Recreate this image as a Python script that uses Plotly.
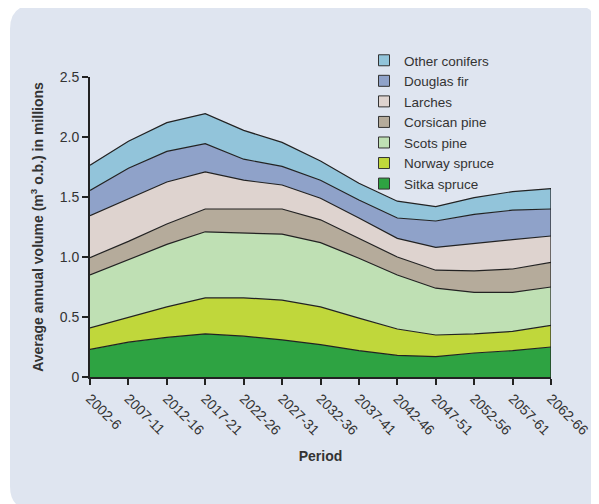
import plotly.graph_objects as go

periods = ["2002-6", "2007-11", "2012-16", "2017-21", "2022-26", "2027-31", "2032-36",
           "2037-41", "2042-46", "2047-51", "2052-56", "2057-61", "2062-66"]

sitka_spruce   = [0.23, 0.29, 0.33, 0.36, 0.34, 0.31, 0.27, 0.22, 0.18, 0.17, 0.20, 0.22, 0.25]
norway_spruce  = [0.18, 0.21, 0.255, 0.30, 0.32, 0.33, 0.315, 0.27, 0.22, 0.18, 0.16, 0.16, 0.18]
scots_pine     = [0.44, 0.475, 0.52, 0.55, 0.54, 0.55, 0.535, 0.50, 0.45, 0.39, 0.345, 0.325, 0.32]
corsican_pine  = [0.145, 0.155, 0.17, 0.19, 0.20, 0.21, 0.19, 0.165, 0.15, 0.15, 0.18, 0.195, 0.205]
larches        = [0.35, 0.355, 0.35, 0.31, 0.24, 0.20, 0.18, 0.17, 0.155, 0.19, 0.23, 0.245, 0.22]
douglas_fir    = [0.21, 0.255, 0.255, 0.235, 0.175, 0.155, 0.15, 0.15, 0.17, 0.22, 0.24, 0.245, 0.225]
other_conifers = [0.21, 0.225, 0.24, 0.25, 0.24, 0.20, 0.16, 0.14, 0.14, 0.12, 0.14, 0.155, 0.17]

series = [
    ("Sitka spruce", sitka_spruce, "#2ea342"),
    ("Norway spruce", norway_spruce, "#c0d73b"),
    ("Scots pine", scots_pine, "#bfe0b4"),
    ("Corsican pine", corsican_pine, "#b5ab9b"),
    ("Larches", larches, "#ded3cf"),
    ("Douglas fir", douglas_fir, "#8fa2c9"),
    ("Other conifers", other_conifers, "#92c4da"),
]

fig = go.Figure()
for name, vals, col in series:
    fig.add_trace(go.Scatter(
        x=periods, y=vals, name=name, mode="lines", stackgroup="one",
        line=dict(color="#222222", width=1.2), fillcolor=col,
        showlegend=False, hoverinfo="x+y+name",
    ))

# right-edge closing line of the stack
total_last = sum(v[-1] for _, v, _ in series)
fig.add_trace(go.Scatter(x=[periods[-1], periods[-1]], y=[0, total_last], mode="lines",
                         line=dict(color="#222222", width=1.2), showlegend=False,
                         hoverinfo="skip"))

# legend entries (squares), top = Other conifers
for name, vals, col in reversed(series):
    fig.add_trace(go.Scatter(
        x=[None], y=[None], mode="markers", name=name,
        marker=dict(symbol="square", size=11, color=col, line=dict(color="#333333", width=1)),
        showlegend=True,
    ))

# page has an 8px body margin; figure coordinates = page coordinates - 8
OFF = 8
W, H = 599 - OFF, 504 - OFF
L = 90 - OFF
T = 77 - OFF
R = W - (551 - OFF)
B = H - (377 - OFF)
pw, ph = W - L - R, H - T - B

def px(xp):
    return (xp - OFF - L) / pw

def py(yp):
    return (H - B - (yp - OFF)) / ph

x0, x1, y0, y1 = 10, 597, 5, 510
rx, ry = 24, 24
path = (f"M {px(x0+rx)},{py(y0)} L {px(x1-rx)},{py(y0)} Q {px(x1)},{py(y0)} {px(x1)},{py(y0+ry)} "
        f"L {px(x1)},{py(y1)} "
        f"L {px(x0+rx)},{py(y1)} Q {px(x0)},{py(y1)} {px(x0)},{py(y1-ry)} "
        f"L {px(x0)},{py(y0+ry)} Q {px(x0)},{py(y0)} {px(x0+rx)},{py(y0)} Z")

fig.update_layout(
    width=W, height=H,
    margin=dict(l=L, r=R, t=T, b=B, autoexpand=False),
    paper_bgcolor="white", plot_bgcolor="rgba(0,0,0,0)",
    font=dict(family="Liberation Sans, Arial, sans-serif", size=14, color="#333333"),
    shapes=[dict(type="path", path=path, xref="paper", yref="paper",
                 fillcolor="#dfe5f0", line=dict(width=0), layer="below")],
    legend=dict(x=px(364), y=py(45), xanchor="left", yanchor="top",
                traceorder="normal",
                bgcolor="rgba(0,0,0,0)", font=dict(size=13.5, color="#333333"),
                tracegroupgap=0, itemwidth=30),
    xaxis=dict(
        type="category", range=[0, len(periods) - 1], tickangle=45,
        automargin=False,
        showline=True, linecolor="#222222", linewidth=2,
        ticks="outside", ticklen=6, tickwidth=2, tickcolor="#222222",
        showgrid=False, zeroline=False,
        tickfont=dict(size=14, color="#333333"),
        title=dict(text="<b>Period</b>", font=dict(size=14, color="#333333"), standoff=14),
    ),
    yaxis=dict(
        range=[0, 2.5], tickvals=[0, 0.5, 1.0, 1.5, 2.0, 2.5],
        ticktext=["0", "0.5", "1.0", "1.5", "2.0", "2.5"],
        automargin=False,
        showline=True, linecolor="#222222", linewidth=2,
        ticks="outside", ticklen=6, tickwidth=2, tickcolor="#222222",
        showgrid=False, zeroline=False,
        tickfont=dict(size=14, color="#333333"),
        title=dict(text="<b>Average annual volume (m<sup>3</sup> o.b.) in millions</b>",
                   font=dict(size=14, color="#333333"), standoff=13),
    ),
)

fig.write_html("out.html")
